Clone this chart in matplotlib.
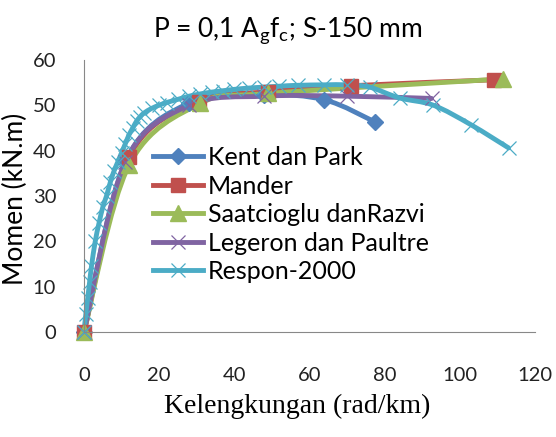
import numpy as np
import matplotlib.pyplot as plt
from matplotlib.path import Path
from matplotlib.patches import PathPatch
from matplotlib.lines import Line2D

# Kurva momen-kelengkungan, P = 0,1 Ag fc, S-150 mm
kent_x = [0, 11, 28, 48, 64, 77.5]
kent_y = [0, 37.5, 50.5, 52.3, 51.2, 46.3]

mander_x = [0, 12, 30.5, 49, 71, 109]
mander_y = [0, 38.5, 50.7, 53, 54.3, 55.6]

saat_x = [0, 12, 31, 49, 111.5]
saat_y = [0, 36.8, 50.4, 52.6, 55.8]

leg_x = [0, 11, 28, 48, 70, 92.5]
leg_y = [0, 37.5, 50, 52, 52, 51.5]

resp_x = [0, 0.5, 1, 1.5, 2, 3, 4, 5, 6, 7, 8, 9, 10, 11, 12, 13, 14, 15,
          16, 18, 20, 22, 25, 28, 31, 34, 37, 40, 44, 48, 52, 57, 64, 70,
          76, 84, 93, 103, 113]
resp_y = [0, 4, 7.5, 11, 14.5, 20, 24, 27.5, 30, 33, 35.5, 37.5, 39.5,
          41.5, 43.5, 45, 46.5, 47.5, 48.3, 49.3, 50, 50.6, 51.3, 52, 52.5,
          52.9, 53.2, 53.5, 53.8, 54, 54.2, 54.4, 54.5, 54.5, 54, 51.6, 50,
          45.7, 40.6]

series = [
    ("Kent dan Park", kent_x, kent_y, "#4F81BD", "D", 8),
    ("Mander", mander_x, mander_y, "#C0504D", "s", 10),
    ("Saatcioglu danRazvi", saat_x, saat_y, "#9BBB59", "^", 11),
    ("Legeron dan Paultre", leg_x, leg_y, "#8064A2", "x", 10),
    ("Respon-2000", resp_x, resp_y, "#4BACC6", "x", 10),
]


def smooth_path(x, y):
    # bezier curve through the points, like a spreadsheet "smoothed line"
    p = np.column_stack([x, y]).astype(float)
    verts = [p[0]]
    codes = [Path.MOVETO]
    n = len(p)
    for i in range(n - 1):
        p0 = p[max(i - 1, 0)]
        p3 = p[min(i + 2, n - 1)]
        c1 = p[i] + (p[i + 1] - p0) / 6
        c2 = p[i + 1] - (p3 - p[i]) / 6
        verts += [c1, c2, p[i + 1]]
        codes += [Path.CURVE4] * 3
    return Path(verts, codes)


plt.rcParams['font.family'] = ['Lato', 'DejaVu Sans']

fig = plt.figure(figsize=(5.56, 4.37), dpi=100)
ax = fig.add_axes([0.151, 0.240, 0.811, 0.623])

handles = []
for name, x, y, c, m, ms in series:
    ax.add_patch(PathPatch(smooth_path(x, y), fill=False, ec=c, lw=3.5,
                           capstyle="round", joinstyle="round",
                           clip_on=False))
    mew = 0.9 if m == "x" else 1
    ax.plot(x, y, ls="none", marker=m, ms=ms, mew=mew, color=c, mec=c,
            clip_on=False)
    handles.append(Line2D([], [], color=c, lw=3.5, marker=m, ms=ms,
                          mew=mew, mec=c, label=name))

ax.set_xlim(0, 120)
ax.set_ylim(0, 60)
ax.set_xticks(np.arange(0, 121, 20))
ax.set_yticks(np.arange(0, 61, 10))
ax.tick_params(length=0, labelsize=14.5, colors="#222222")
ax.tick_params(axis="y", pad=20)
ax.tick_params(axis="x", pad=25)
for s in ("top", "right"):
    ax.spines[s].set_visible(False)
for s in ("left", "bottom"):
    ax.spines[s].set_color("#888888")

fig.text(0.518, 0.93,
         "P = 0,1 A$_\\mathregular{g}$f$_\\mathregular{c}$; S-150 mm",
         fontsize=19, ha="center", va="center")
ax.set_ylabel("Momen (kN.m)", fontsize=19)
ax.yaxis.set_label_coords(-0.124, 0.49)
ax.set_xlabel("Kelengkungan (rad/km)", fontsize=20,
              family="Liberation Serif")
ax.xaxis.set_label_coords(0.472, -0.225)

ax.legend(handles=handles, loc="upper left", bbox_to_anchor=(0.13, 0.72),
          fontsize=18, frameon=False, handlelength=2.0, handletextpad=0.2,
          labelspacing=0.22, borderaxespad=0)

fig.savefig("out.png", dpi=100)
